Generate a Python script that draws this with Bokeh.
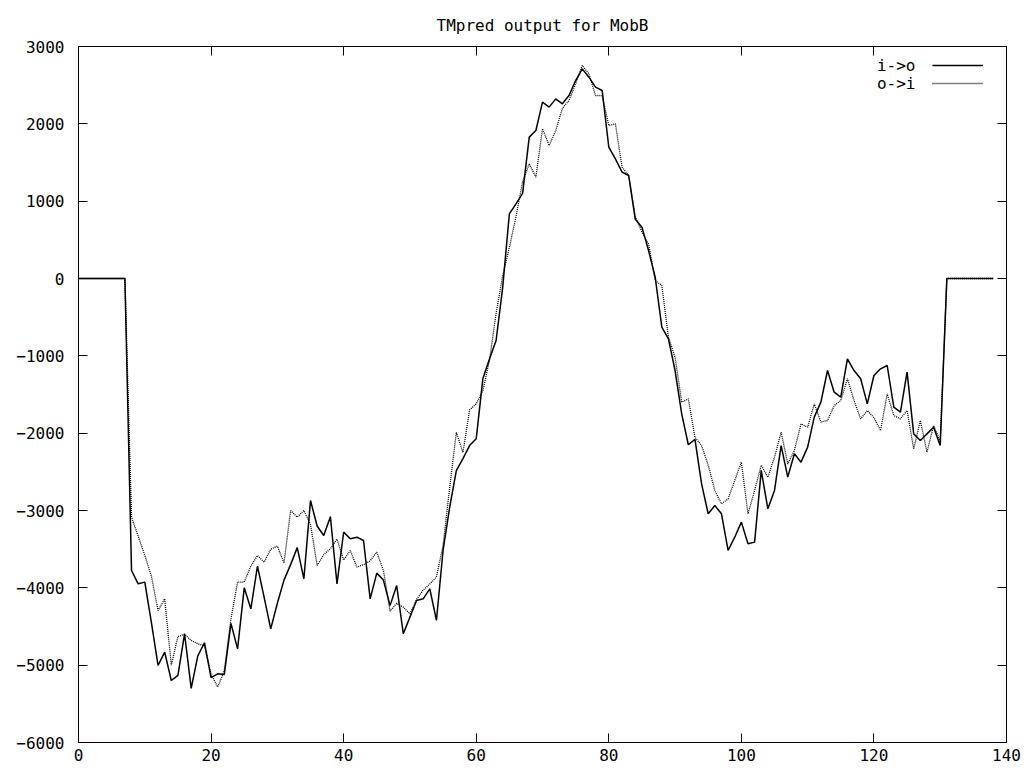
from bokeh.plotting import figure
from bokeh.models import (Range1d, FixedTicker, LinearAxis, CustomJSTickFormatter,
                          Legend, LegendItem, Label)
from bokeh.embed import file_html
from bokeh.resources import INLINE

# ---- data (residue position, TMpred scores) ----
position = list(range(0, 139))

i_to_o = [
    0, 0, 0, 0, 0, 0, 0, 0,
    -3776, -3948, -3926, -4450, -5004, -4831, -5198, -5133, -4594, -5300,
    -4880, -4710, -5160, -5112, -5120, -4460, -4789, -4000, -4271, -3720,
    -4120, -4530, -4200, -3900, -3700, -3480, -3883, -2870, -3200, -3323,
    -3080, -3950, -3280, -3366, -3345, -3388, -4142, -3810, -3900, -4230,
    -3970, -4594, -4379, -4164, -4142, -4013, -4422, -3517, -2956, -2483,
    -2330, -2160, -2073, -1297, -1040, -802, -112, 836, 965, 1100,
    1828, 1914, 2280, 2216, 2323, 2259, 2366, 2560, 2711, 2603,
    2474, 2431, 1700, 1547, 1375, 1332, 765, 664, 362, 17,
    -629, -780, -1190, -1750, -2150, -2080, -2655, -3043, -2935, -3043,
    -3517, -3345, -3150, -3431, -3409, -2482, -2978, -2741, -2160, -2569,
    -2267, -2375, -2181, -1793, -1599, -1190, -1470, -1535, -1039, -1190,
    -1297, -1621, -1254, -1168, -1125, -1664, -1728, -1211, -2009, -2095,
    -2009, -1923, -2160,
    0, 0, 0, 0, 0, 0, 0, 0,
]

o_to_i = [
    0, 0, 0, 0, 0, 0, 0, 0,
    -3086, -3330, -3580, -3850, -4293, -4142, -5000, -4630, -4600, -4680,
    -4724, -4750, -5112, -5284, -5070, -4400, -3926, -3926, -3720, -3582,
    -3668, -3500, -3460, -3680, -3000, -3086, -3000, -3180, -3711, -3570,
    -3495, -3370, -3640, -3518, -3732, -3700, -3650, -3539, -3776, -4300,
    -4200, -4250, -4336, -4150, -4030, -3950, -3860, -3450, -2700, -1990,
    -2250, -1700, -1621, -1450, -1060, -450, 40, 400, 800, 1250,
    1483, 1310, 1936, 1720, 1914, 2200, 2302, 2517, 2754, 2646,
    2366, 2366, 1979, 2000, 1440, 1332, 800, 600, 448, -26,
    -90, -760, -1017, -1600, -1556, -2052, -2160, -2414, -2741, -2914,
    -2849, -2612, -2375, -3043, -2741, -2414, -2569, -2310, -1987, -2397,
    -2224, -1880, -1923, -1621, -1858, -1836, -1643, -1578, -1297, -1578,
    -1815, -1707, -1800, -1966, -1492, -1772, -1815, -1707, -2203, -1836,
    -2246, -1901, -2100,
    0, 0, 0, 0, 0, 0, 0, 0,
]

x_ticks = [0, 20, 40, 60, 80, 100, 120, 140]
y_ticks = [-6000, -5000, -4000, -3000, -2000, -1000, 0, 1000, 2000, 3000]
series_names = ["i->o", "o->i"]
title_text = "TMpred output for MobB"

FONT = "DejaVu Sans Mono"
FS = "16px"

p = figure(frame_width=928, frame_height=696,
           min_border_left=78, min_border_right=20, min_border_top=46, min_border_bottom=0,
           x_range=Range1d(0, 140), y_range=Range1d(-6000, 3000),
           output_backend="svg", toolbar_location=None,
           background_fill_color="white", border_fill_color="white")

p.xgrid.visible = False
p.ygrid.visible = False
p.outline_line_color = "black"
p.outline_line_width = 1

p.title.text = title_text
p.title.align = "center"
p.title.vertical_align = "top"
p.title.text_font = FONT
p.title.text_font_size = FS
p.title.text_font_style = "normal"
p.title.text_color = "black"
p.title.standoff = 20


def style_axis(ax, ticks, labels=True):
    ax.ticker = FixedTicker(ticks=ticks)
    ax.major_tick_in = 9
    ax.major_tick_out = 0
    ax.minor_tick_in = 0
    ax.minor_tick_out = 0
    ax.axis_line_color = "black"
    ax.major_tick_line_color = "black"
    ax.major_label_text_font = FONT
    ax.major_label_text_font_size = FS
    ax.major_label_text_color = "black"
    if not labels:
        ax.formatter = CustomJSTickFormatter(code="return ''")
        ax.major_label_standoff = 0


style_axis(p.xaxis[0], x_ticks)
p.xaxis[0].major_label_standoff = 6
style_axis(p.yaxis[0], y_ticks)
p.yaxis[0].major_label_standoff = 14

top = LinearAxis()
style_axis(top, x_ticks, labels=False)
p.add_layout(top, "above")
right = LinearAxis()
style_axis(right, y_ticks, labels=False)
p.add_layout(right, "right")

r1 = p.line(position, i_to_o, line_color="black", line_width=1.5)
r2 = p.line(position, o_to_i, line_color="black", line_width=1.3, line_dash="1 1")

legend = Legend(items=[LegendItem(label=" ", renderers=[r1]),
                       LegendItem(label=" ", renderers=[r2])],
                location=(854, 650), glyph_width=51, glyph_height=18,
                label_height=18, label_width=0, label_standoff=0,
                padding=0, margin=0, spacing=0,
                border_line_alpha=0, background_fill_alpha=0,
                label_text_font=FONT, label_text_font_size=FS)
p.add_layout(legend)

for name, yy in zip(series_names, [677, 659]):
    p.add_layout(Label(x=837, y=yy, x_units="screen", y_units="screen", text=name,
                       text_align="right", text_baseline="middle",
                       text_font=FONT, text_font_size=FS, text_color="black"))

open("out.html", "w").write(file_html(p, INLINE))
